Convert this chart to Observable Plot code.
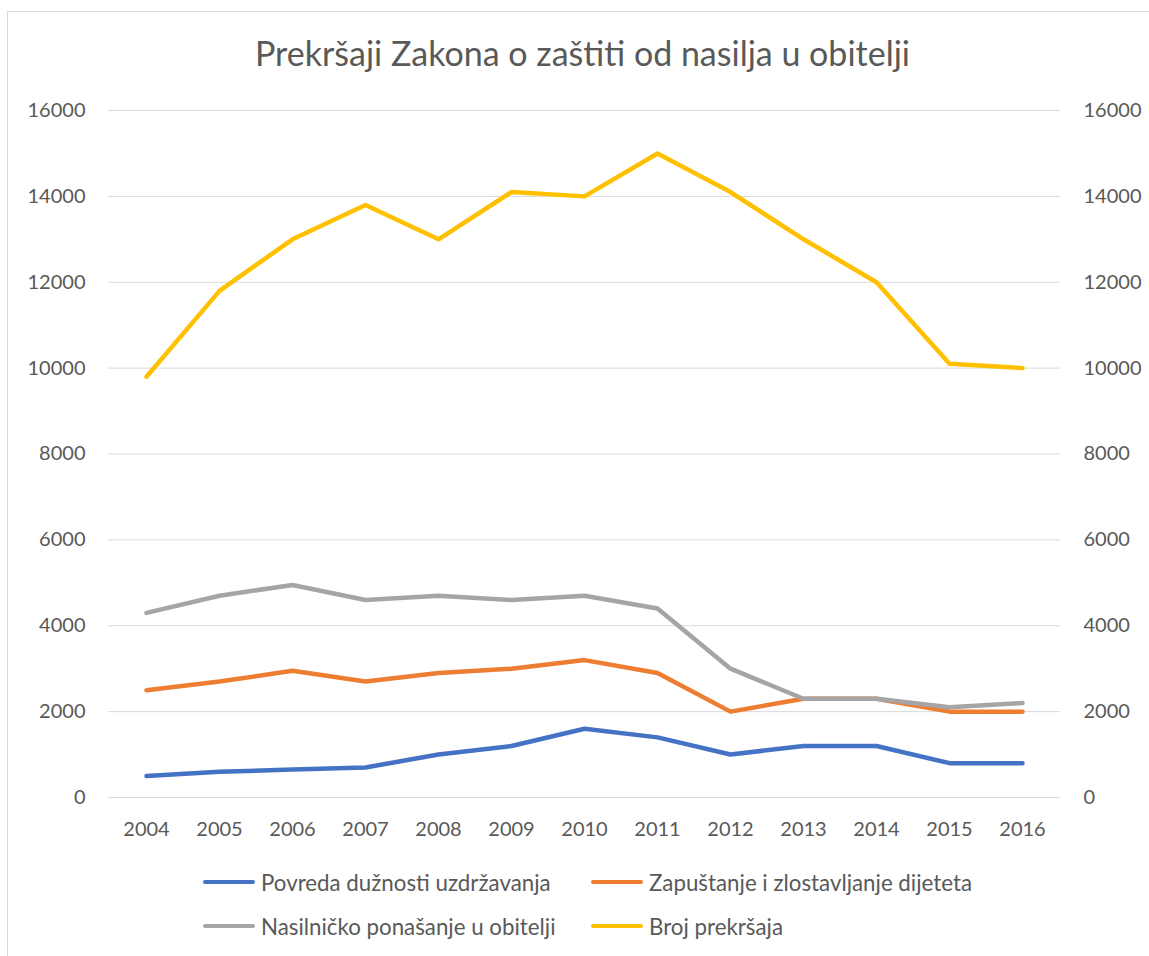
<!DOCTYPE html>
<html><head><meta charset="utf-8">
<script src="https://cdn.jsdelivr.net/npm/d3@7"></script>
<script src="https://cdn.jsdelivr.net/npm/@observablehq/plot@0.6"></script>
<style>
html,body{margin:0;padding:0;overflow:hidden;background:#fff;}
#wrap{position:relative;width:1149px;height:956px;font-family:Lato,"Open Sans",sans-serif;color:#595959;}
#border{position:absolute;left:7px;top:11px;width:1200px;height:1000px;border-left:1px solid #d9d9d9;border-top:1px solid #d9d9d9;box-sizing:border-box;pointer-events:none;}
#title{height:90px;box-sizing:border-box;padding-top:18px;padding-left:16px;line-height:70px;text-align:center;font-size:34px;white-space:nowrap;}
#chart svg{display:block;}
#legend{position:relative;height:86px;font-size:22.3px;}
.item{position:absolute;display:flex;align-items:center;height:30px;white-space:nowrap;}
.sw{width:52px;height:4.5px;border-radius:2px;margin-right:6px;}
</style></head>
<body><div id="wrap"><div id="border"></div><div id="title">Prekršaji Zakona o zaštiti od nasilja u obitelji</div><div id="chart"></div><div id="legend"></div></div>
<script>
const years = ["2004","2005","2006","2007","2008","2009","2010","2011","2012","2013","2014","2015","2016"];
const povreda = [500,600,650,700,1000,1200,1600,1400,1000,1200,1200,800,800];
const zapustanje = [2500,2700,2950,2700,2900,3000,3200,2900,2000,2300,2300,2000,2000];
const nasilnicko = [4300,4700,4950,4600,4700,4600,4700,4400,3000,2300,2300,2100,2200];
const broj = [9800,11800,13000,13800,13000,14100,14000,15000,14100,13000,12000,10100,10000];
const seriesNames = ["Povreda dužnosti uzdržavanja","Zapuštanje i zlostavljanje dijeteta","Nasilničko ponašanje u obitelji","Broj prekršaja"];
const seriesValues = [povreda, zapustanje, nasilnicko, broj];
const colors = ["#4472C4","#ED7D31","#A5A5A5","#FFC000"];
const yTicks = [0,2000,4000,6000,8000,10000,12000,14000,16000];

const data = [];
seriesNames.forEach((s,i)=>years.forEach((y,j)=>data.push({series:s, year:y, value:seriesValues[i][j]})));

const fmt = d => String(d);
const plot = Plot.plot({
  width:1149, height:780,
  marginTop:20, marginBottom:73, marginLeft:108, marginRight:89,
  style:{fontFamily:'Lato,"Open Sans",sans-serif', fontSize:"20px", color:"#595959", background:"transparent"},
  x:{type:"point", domain:years, padding:0.5},
  y:{domain:[0,16000]},
  color:{domain:seriesNames, range:colors},
  marks:[
    Plot.gridY(yTicks,{stroke:"#d9d9d9", strokeOpacity:1, strokeWidth:1}),
    Plot.axisY(yTicks,{anchor:"left", tickSize:0, tickPadding:23, label:null, tickFormat:fmt, fontSize:20}),
    Plot.axisY(yTicks,{anchor:"right", tickSize:0, tickPadding:23, label:null, tickFormat:fmt, fontSize:20}),
    Plot.axisX({tickSize:0, tickPadding:24, label:null, fontSize:20}),
    Plot.line(data,{x:"year", y:"value", stroke:"series", z:"series", strokeWidth:4.5, strokeLinejoin:"round", strokeLinecap:"round"})
  ]
});
document.getElementById("chart").appendChild(plot);

const legend = document.getElementById("legend");
const pos = [[203,-3],[591,-3],[203,41],[591,41]];
seriesNames.forEach((s,i)=>{
  const it = document.createElement("div");
  it.className="item";
  it.style.left = pos[i][0]+"px";
  it.style.top = pos[i][1]+"px";
  const sw = document.createElement("div");
  sw.className="sw"; sw.style.background = colors[i];
  const t = document.createElement("span"); t.textContent = s;
  it.appendChild(sw); it.appendChild(t);
  legend.appendChild(it);
});
</script></body></html>
